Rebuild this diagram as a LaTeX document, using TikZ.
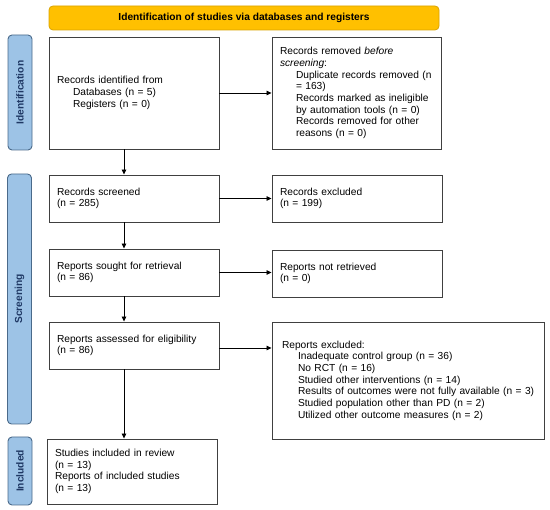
\documentclass[tikz,border=0pt]{standalone}
\usepackage{fontspec}
\setmainfont{Liberation Sans}
\usetikzlibrary{arrows.meta,calc}
\definecolor{hdrfill}{HTML}{FFC000}
\definecolor{hdrdraw}{HTML}{D9A300}
\definecolor{sidefill}{HTML}{9DC3E6}
\definecolor{sidedraw}{HTML}{4A6A8A}
\definecolor{sidetext}{HTML}{1F3864}
\definecolor{boxdraw}{HTML}{404040}
\newcommand{\ind}{\hspace*{16pt}}
\tikzset{
  box/.style={draw=boxdraw, line width=0.9pt, fill=white, inner xsep=8pt, inner ysep=2pt,
    align=left, font=\fontsize{10.2}{11.7}\selectfont},
  side/.style={draw=sidedraw, line width=0.9pt, fill=sidefill, rounded corners=4pt, rotate=90,
    minimum height=24pt, inner sep=0pt, text=sidetext, font=\fontsize{10.2}{12}\selectfont\bfseries},
  arr/.style={line width=0.8pt, -{Triangle[length=5pt,width=4.5pt]}},
}
\begin{document}
\begin{tikzpicture}[x=1pt,y=-1pt]
\useasboundingbox (0,0) rectangle (550,510);
% header
\node[draw=hdrdraw, line width=0.8pt, fill=hdrfill, rounded corners=4pt, minimum width=390pt, minimum height=24pt,
  inner sep=0pt, font=\fontsize{10.2}{12}\selectfont\bfseries] (hdr) at (244,18) {Identification of studies via databases and registers};
% side labels
\node[side, minimum width=115pt] (sid) at (20,92.5) {Identification};
\node[side, minimum width=250pt] (sscr) at (19.5,299) {Screening};
\node[side, minimum width=68pt] (sinc) at (20,471) {Included};
% left column
\node[box, text width=154pt, minimum height=112pt] (b1) at (134,93) {Records identified from\\ \ind Databases (n = 5)\\ \ind Registers (n = 0)};
\node[box, text width=154pt, minimum height=47pt] (b2) at (134,198.5) {Records screened\\ (n = 285)};
\node[box, text width=154pt, minimum height=47pt] (b3) at (134,272.5) {Reports sought for retrieval\\ (n = 86)};
\node[box, text width=154pt, minimum height=47pt] (b4) at (134,345.5) {Reports assessed for eligibility\\ (n = 86)};
\node[box, text width=154pt, minimum height=65pt] (b5) at (132,471.5) {Studies included in review\\ (n = 13)\\ Reports of included studies\\ (n = 13)};
% right column
\node[box, text width=153pt, minimum height=112pt] (r1) at (356.5,93) {Records removed \textit{before}\\ \textit{screening}:\\ \ind Duplicate records removed (n\\ \ind = 163)\\ \ind Records marked as ineligible\\ \ind by automation tools (n = 0)\\ \ind Records removed for other\\ \ind reasons (n = 0)};
\node[box, text width=154pt, minimum height=47pt] (r2) at (357,198.5) {Records excluded\\ (n = 199)};
\node[box, text width=154pt, minimum height=47pt] (r3) at (357,273.5) {Reports not retrieved\\ (n = 0)};
\node[box, text width=252pt, inner xsep=10pt, minimum height=117pt] (r4) at (408,380.5) {Reports excluded:\\ \ind Inadequate control group (n = 36)\\ \ind No RCT (n = 16)\\ \ind Studied other interventions (n = 14)\\ \ind \mbox{Results of outcomes were not fully available (n = 3)}\\ \ind Studied population other than PD (n = 2)\\ \ind Utilized other outcome measures (n = 2)};
% arrows
\coordinate (ax) at (124,0);
\draw[arr] (b1.south -| ax) -- (b2.north -| ax);
\draw[arr] (b2.south -| ax) -- (b3.north -| ax);
\draw[arr] (b3.south -| ax) -- (b4.north -| ax);
\draw[arr] (b4.south -| ax) -- (b5.north -| ax);
\draw[arr] (b1.east) -- (b1.east -| r1.west);
\draw[arr] (b2.east) -- (b2.east -| r2.west);
\draw[arr] (b3.east) -- (b3.east -| r3.west);
\draw[arr] ($(b4.east)+(0,2.5)$) -- ($(b4.east -| r4.west)+(0,2.5)$);
\end{tikzpicture}
\end{document}
